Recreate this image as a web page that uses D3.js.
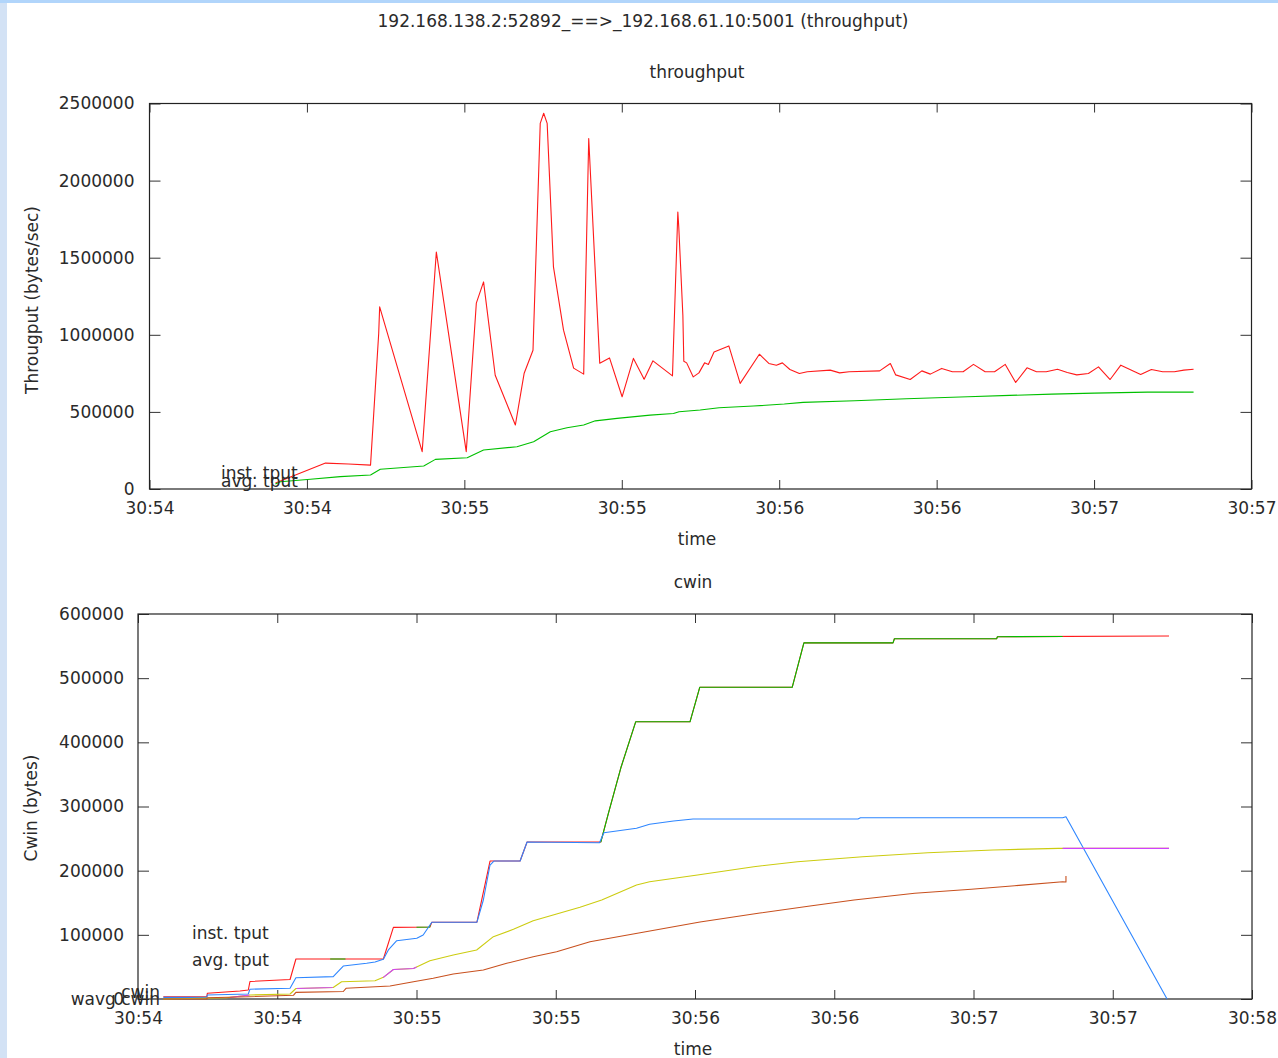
<!DOCTYPE html>
<html><head><meta charset="utf-8">
<script src="https://cdn.jsdelivr.net/npm/d3@7"></script>
<style>
html,body{margin:0;padding:0;background:#fff;}
svg{display:block;}
text{font-family:"DejaVu Sans",sans-serif;font-size:17px;fill:#2a2a2a;}
</style></head><body>
<svg id="c" width="1278" height="1058"></svg>
<script>
// ---- DATA (time in seconds after 30:54.0) ----
const mainTitle = "192.168.138.2:52892_==>_192.168.61.10:5001 (throughput)";
const topTickTimes = [0,0.5,1,1.5,2,2.5,3,3.5];
const topTickLabels = ["30:54","30:54","30:55","30:55","30:56","30:56","30:57","30:57"];
const topYTicks = [0,500000,1000000,1500000,2000000,2500000];
const botTickTimes = [0,0.5,1,1.5,2,2.5,3,3.5,4];
const botTickLabels = ["30:54","30:54","30:55","30:55","30:56","30:56","30:57","30:57","30:58"];
const botYTicks = [0,100000,200000,300000,400000,500000,600000];

const instTput = [[0.400,39000],[0.559,168000],[0.632,162000],[0.702,155000],[0.728,1010000],[0.731,1181000],[0.866,242000],[0.911,1537000],[1.006,242000],[1.038,1205000],[1.061,1343000],[1.098,738000],[1.162,415000],[1.190,751000],[1.218,900000],[1.241,2371000],[1.252,2437000],[1.263,2371000],[1.283,1440000],[1.315,1030000],[1.347,784000],[1.379,745000],[1.395,2273000],[1.430,816000],[1.461,850000],[1.501,598000],[1.537,847000],[1.571,712000],[1.599,831000],[1.661,734000],[1.678,1796000],[1.681,1699000],[1.694,1127000],[1.697,829000],[1.706,818000],[1.727,727000],[1.745,753000],[1.763,818000],[1.775,808000],[1.793,889000],[1.840,928000],[1.876,685000],[1.937,874000],[1.967,814000],[1.991,803000],[2.010,818000],[2.034,775000],[2.064,749000],[2.089,760000],[2.162,771000],[2.192,753000],[2.222,760000],[2.319,766000],[2.353,814000],[2.370,740000],[2.416,710000],[2.453,766000],[2.480,745000],[2.516,782000],[2.550,760000],[2.584,760000],[2.617,808000],[2.654,760000],[2.684,760000],[2.718,808000],[2.751,691000],[2.787,786000],[2.817,760000],[2.848,760000],[2.884,777000],[2.915,756000],[2.945,740000],[2.982,749000],[3.014,792000],[3.051,710000],[3.085,803000],[3.148,743000],[3.182,775000],[3.218,760000],[3.255,760000],[3.285,771000],[3.316,777000]];

const avgTput = [[0.400,32000],[0.416,47000],[0.511,63000],[0.606,80000],[0.702,91000],[0.733,128000],[0.871,149000],[0.908,192000],[1.009,203000],[1.061,253000],[1.167,274000],[1.220,306000],[1.273,371000],[1.326,397000],[1.379,415000],[1.416,442000],[1.485,458000],[1.590,479000],[1.664,490000],[1.682,501000],[1.749,512000],[1.809,527000],[1.918,538000],[2.016,551000],[2.076,562000],[2.240,572000],[2.404,585000],[2.599,598000],[2.732,607000],[2.866,615000],[3.000,622000],[3.170,628000],[3.316,628000]];

const cwinA = [[0.091,3600],[0.247,3600],[0.249,8900],[0.366,12500],[0.396,14000],[0.402,27300],[0.546,30400],[0.567,62300],[0.881,62300],[0.917,111700],[1.048,112200],[1.055,119700],[1.217,119700],[1.264,215000],[1.372,215000],[1.397,244700],[1.662,244700],[1.689,289400],[1.735,362000],[1.787,432000],[1.982,432000],[2.017,485800],[2.349,485800],[2.391,555000],[2.711,555000],[2.716,561500],[3.083,561500],[3.086,564600],[3.702,565700]];
const cwinAGreenSpans = [[0.69,0.745],[1.0,1.05],[1.66,3.32]];

const cwinB = [[0.091,2600],[0.247,2600],[0.249,6200],[0.396,7800],[0.402,15300],[0.546,16700],[0.567,33200],[0.701,34800],[0.737,51400],[0.821,55600],[0.851,57700],[0.881,61900],[0.899,76400],[0.929,90900],[1.001,94600],[1.024,99700],[1.055,119700],[1.217,119700],[1.240,154300],[1.264,208800],[1.278,215000],[1.372,215000],[1.397,244700],[1.657,243600],[1.673,259200],[1.790,266000],[1.837,272300],[1.923,277400],[1.993,280500],[2.585,280500],[2.594,282500],[3.320,282500],[3.332,284100],[3.695,0]];

const wavgA = [[0.091,0],[0.318,2000],[0.402,6200],[0.546,7800],[0.567,16400],[0.701,17900],[0.731,26800],[0.851,28400],[0.881,33800],[0.917,46000],[0.989,47500],[1.048,59700],[1.132,68600],[1.216,76400],[1.276,97100],[1.348,108600],[1.419,122000],[1.503,132500],[1.587,142900],[1.665,154300],[1.790,177700],[1.837,182800],[2.009,193200],[2.211,206200],[2.368,214000],[2.602,221800],[2.836,228000],[3.070,232200],[3.305,234800],[3.702,234800]];
const wavgAMagentaSpans = [[0.33,0.40],[0.57,0.70],[0.88,1.0],[3.32,3.71]];

const wavgB = [[0.091,0],[0.247,0],[0.249,2000],[0.396,3600],[0.558,5800],[0.567,10400],[0.737,11700],[0.747,16700],[0.905,20300],[0.989,27000],[1.060,32300],[1.132,39000],[1.240,45200],[1.324,55600],[1.419,65900],[1.503,73700],[1.623,89300],[1.803,103300],[2.018,120000],[2.233,134000],[2.413,145000],[2.571,154300],[2.789,164700],[2.992,171000],[3.148,176600],[3.320,182800],[3.332,182300],[3.332,191700]];

const topLegend = ["inst. tput","avg. tput"];
const botLegend = ["inst. tput","avg. tput","cwin","wavg cwin"];

// ---- DRAW ----
const svg = d3.select("#c");
svg.append("rect").attr("x",0).attr("y",0).attr("width",1278).attr("height",1058).attr("fill","#fff");
svg.append("rect").attr("x",0).attr("y",3).attr("width",7).attr("height",1055).attr("fill","#d3e2f5");
svg.append("rect").attr("x",0).attr("y",0).attr("width",1278).attr("height",3).attr("fill","#b1d5fb");

svg.append("text").attr("x",643).attr("y",27).attr("text-anchor","middle").text(mainTitle);

let clipId = 0;
function panel(o){
  const x = d3.scaleLinear().domain(o.xDomain).range([o.left,o.right]);
  const y = d3.scaleLinear().domain(o.yDomain).range([o.bottom,o.top]);
  const g = svg.append("g");
  g.append("text").attr("x",o.subX).attr("y",o.top-26).attr("text-anchor","middle").text(o.sub);
  const xb = g.append("g").attr("transform",`translate(0,${o.bottom})`)
    .call(d3.axisBottom(x).tickValues(o.xTicks).tickFormat((d,i)=>o.xLabels[i]).tickSizeInner(-9).tickSizeOuter(0).tickPadding(13));
  const xt = g.append("g").attr("transform",`translate(0,${o.top})`)
    .call(d3.axisTop(x).tickValues(o.xTicks).tickFormat("").tickSizeInner(-9).tickSizeOuter(0));
  const yl = g.append("g").attr("transform",`translate(${o.left},0)`)
    .call(d3.axisLeft(y).tickValues(o.yTicks).tickFormat(d3.format("d")).tickSizeInner(-11).tickSizeOuter(0).tickPadding(o.yPad));
  const yr = g.append("g").attr("transform",`translate(${o.right},0)`)
    .call(d3.axisRight(y).tickValues(o.yTicks).tickFormat("").tickSizeInner(-11).tickSizeOuter(0));
  [xb,xt,yl,yr].forEach(a=>{
    a.select(".domain").remove();
    a.selectAll(".tick line").attr("stroke","#333").attr("stroke-width",1);
    a.selectAll(".tick text").attr("fill","#2a2a2a").style("font-family","DejaVu Sans, sans-serif").style("font-size","17px");
  });
  g.append("rect").attr("x",o.left).attr("y",o.top).attr("width",o.right-o.left).attr("height",o.bottom-o.top)
    .attr("fill","none").attr("stroke","#222").attr("stroke-width",1.2);
  g.append("text").attr("x",o.subX).attr("y",o.bottom+56).attr("text-anchor","middle").text("time");
  g.append("text").attr("transform",`translate(${o.yLabX},${o.yLabY}) rotate(-90)`).attr("text-anchor","middle").text(o.yLab);
  const line = d3.line().x(d=>x(d[0])).y(d=>y(d[1]));
  function draw(data,color,spans){
    const sel = g.append("path").datum(data).attr("d",line).attr("fill","none")
      .attr("stroke",color).attr("stroke-width",1.1).attr("stroke-linejoin","round");
    if(spans){
      const id = "cl"+(clipId++);
      const cp = svg.append("clipPath").attr("id",id);
      spans.forEach(s=>cp.append("rect").attr("x",x(s[0])).attr("y",o.top-5).attr("width",x(s[1])-x(s[0])).attr("height",o.bottom-o.top+10));
      sel.attr("clip-path",`url(#${id})`);
    }
  }
  return {x,y,g,draw};
}

const topPanel = panel({xDomain:[0,3.5],yDomain:[0,2500000],left:149.5,right:1251.5,top:103.5,bottom:489,
  xTicks:topTickTimes,xLabels:topTickLabels,yTicks:topYTicks,yPad:15,sub:"throughput",subX:697,
  yLab:"Througput (bytes/sec)",yLabX:38,yLabY:300});
topPanel.draw(instTput,"#ff1a1a");
topPanel.draw(avgTput,"#00c000");
topPanel.g.append("text").attr("x",221).attr("y",479).text(topLegend[0]);
topPanel.g.append("text").attr("x",221).attr("y",487).text(topLegend[1]);

const botPanel = panel({xDomain:[0,4],yDomain:[0,600000],left:138,right:1252,top:614,bottom:999,
  xTicks:botTickTimes,xLabels:botTickLabels,yTicks:botYTicks,yPad:14,sub:"cwin",subX:693,
  yLab:"Cwin (bytes)",yLabX:37,yLabY:808});
botPanel.draw(cwinA,"#ff1a1a");
botPanel.draw(cwinA,"#00c000",cwinAGreenSpans);
botPanel.draw(cwinB,"#2e86ff");
botPanel.draw(wavgA,"#cccc10");
botPanel.draw(wavgA,"#d040ff",wavgAMagentaSpans);
botPanel.draw(wavgB,"#c8501e");
botPanel.g.append("text").attr("x",192).attr("y",939).text(botLegend[0]);
botPanel.g.append("text").attr("x",192).attr("y",966).text(botLegend[1]);
botPanel.g.append("text").attr("x",160).attr("y",998).attr("text-anchor","end").text(botLegend[2]);
botPanel.g.append("text").attr("x",160).attr("y",1005).attr("text-anchor","end").text(botLegend[3]);
</script>
</body></html>
